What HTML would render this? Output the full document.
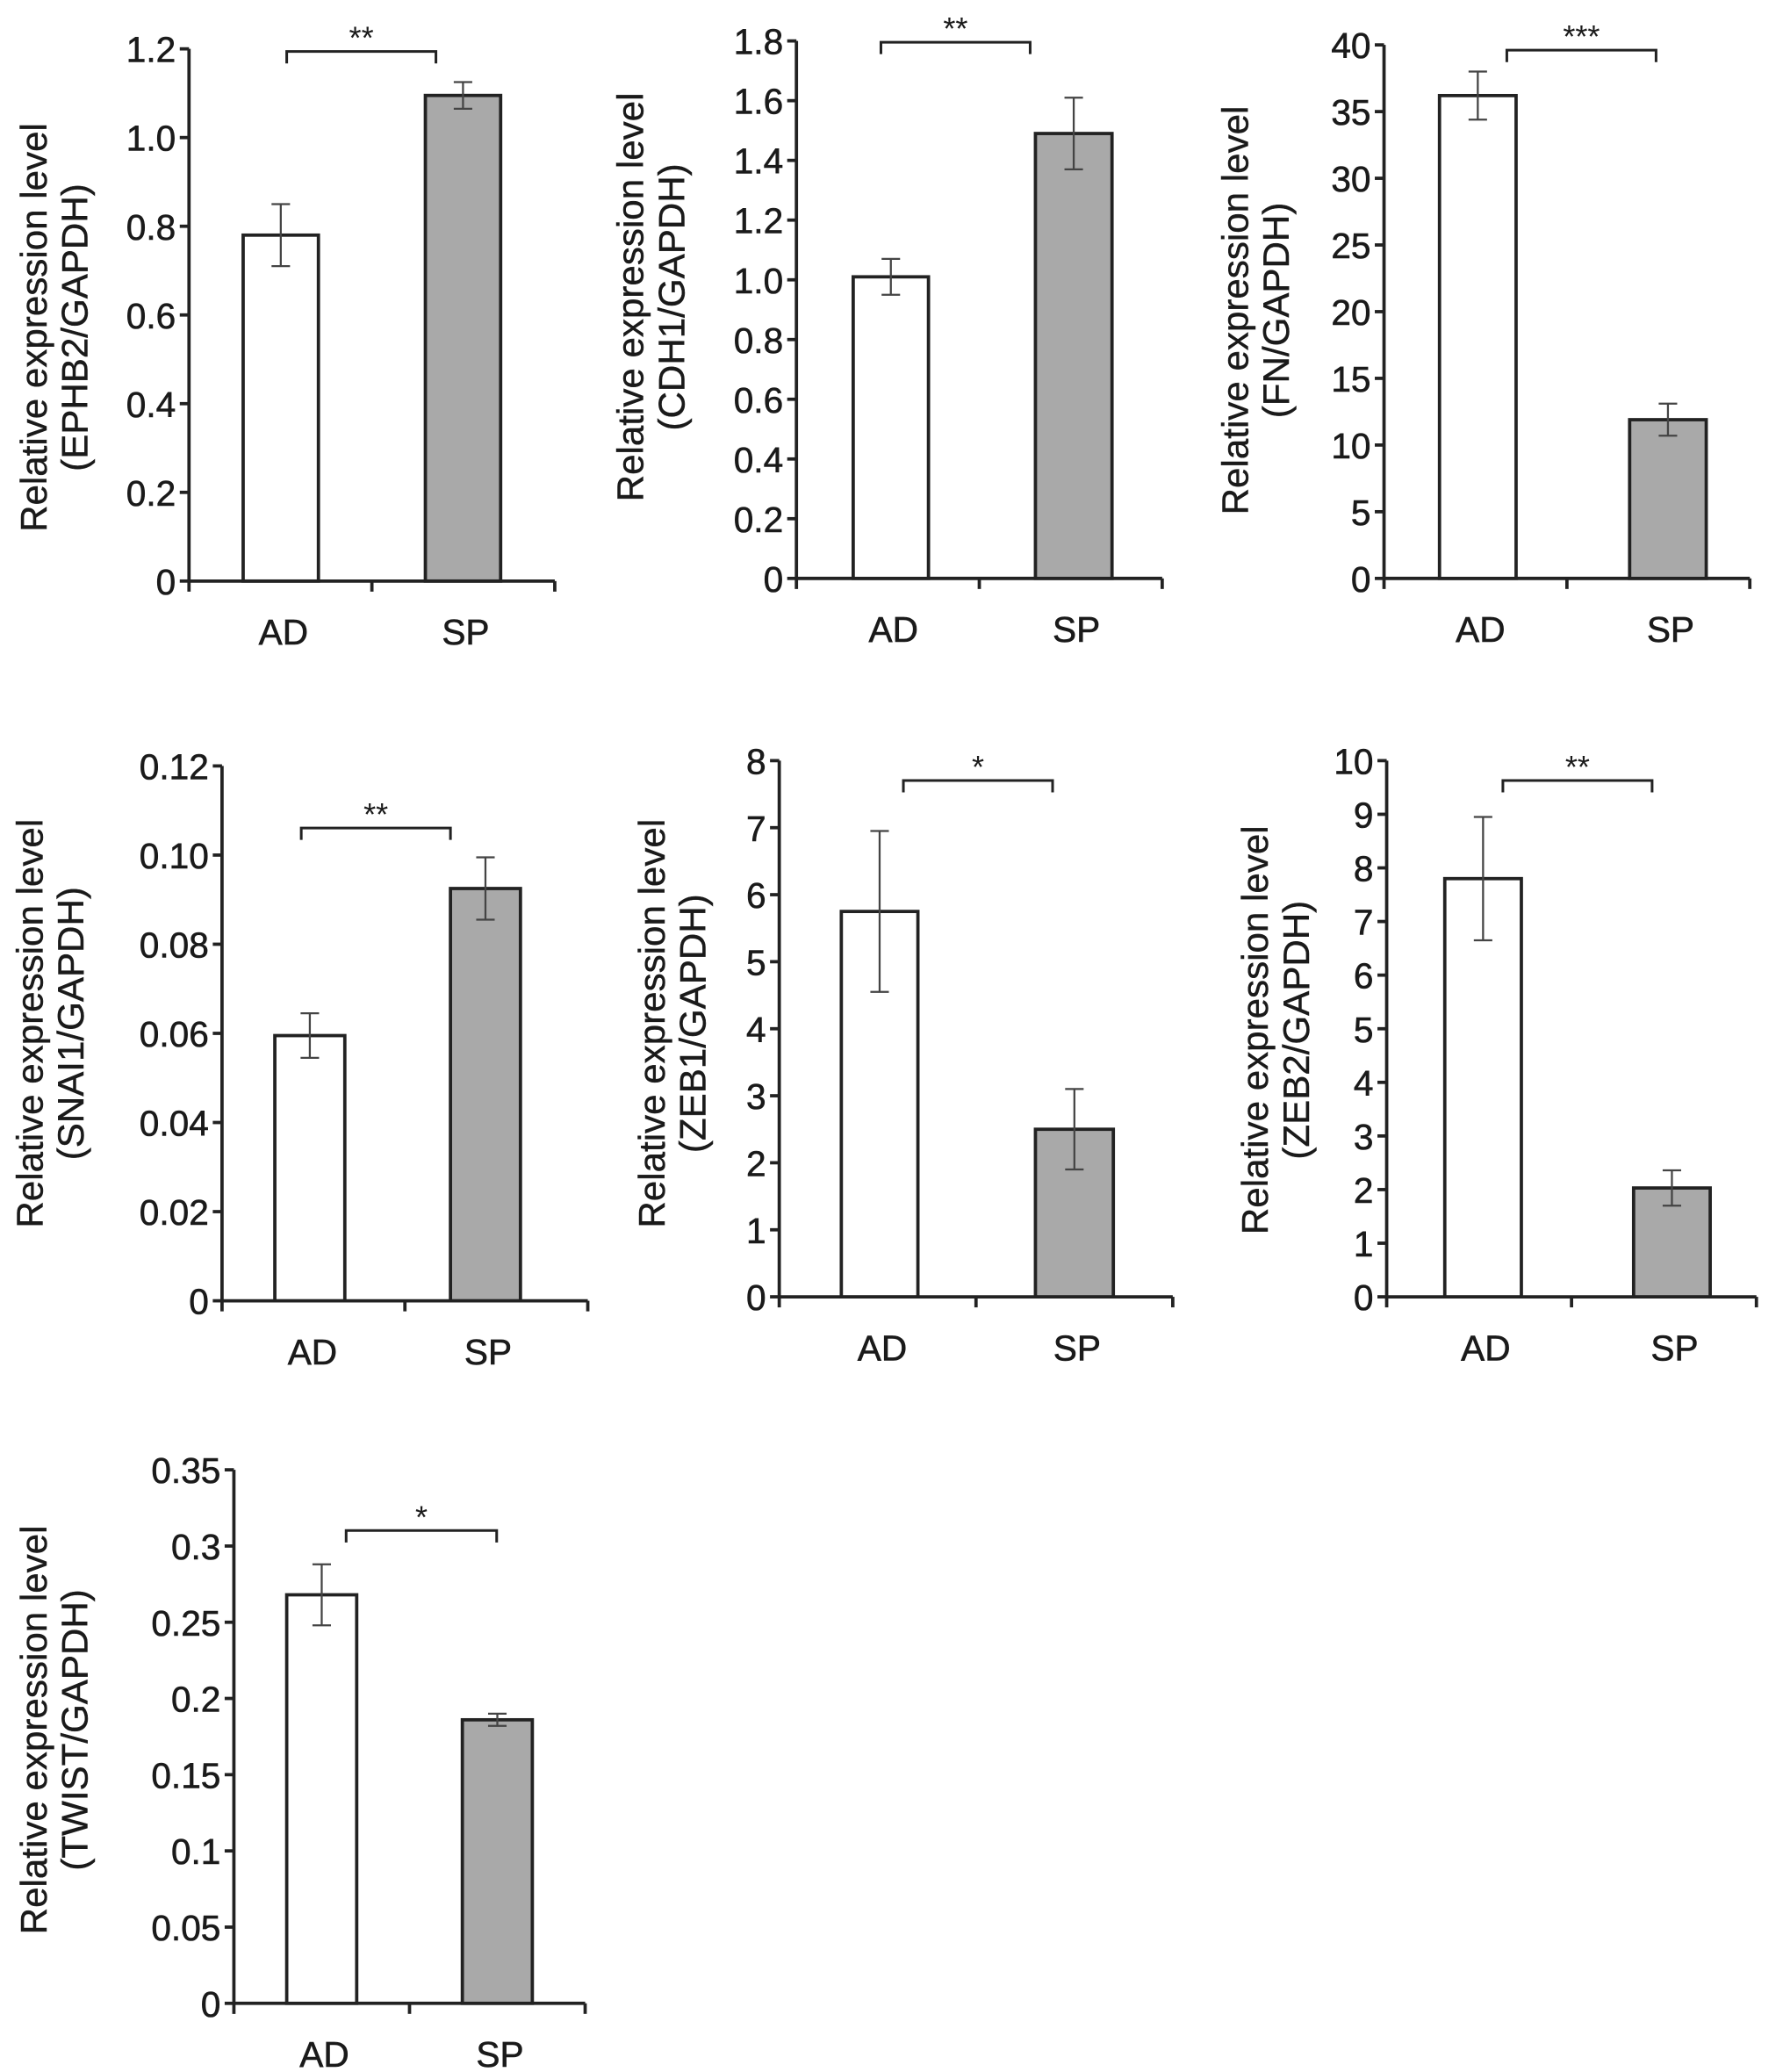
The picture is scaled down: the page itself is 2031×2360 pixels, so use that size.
<!DOCTYPE html>
<html><head><meta charset="utf-8"><style>
html,body{margin:0;padding:0;background:#fff;}
svg{display:block;}
text{font-family:"Liberation Sans",Arial,sans-serif;fill:#1a1a1a;}
</style></head><body>
<svg id="chart" width="2031" height="2360" viewBox="0 0 1350 1569" xmlns="http://www.w3.org/2000/svg"></svg>
<script>
// Data arrays
const categories = ["AD", "SP"];
const genes = ["EPHB2", "CDH1", "FN", "SNAI1", "ZEB1", "ZEB2", "TWIST"];
const meanAD = [0.78, 1.01, 36.2, 0.0595, 5.75, 7.8, 0.268];
const meanSP = [1.095, 1.49, 11.9, 0.0925, 2.5, 2.03, 0.186];
const errAD = [0.07, 0.06, 1.8, 0.005, 1.2, 1.15, 0.02];
const errSP = [0.03, 0.12, 1.2, 0.007, 0.6, 0.33, 0.004];
const yMax = [1.2, 1.8, 40, 0.12, 8, 10, 0.35];
const tickLabels = [
  ["0","0.2","0.4","0.6","0.8","1.0","1.2"],
  ["0","0.2","0.4","0.6","0.8","1.0","1.2","1.4","1.6","1.8"],
  ["0","5","10","15","20","25","30","35","40"],
  ["0","0.02","0.04","0.06","0.08","0.10","0.12"],
  ["0","1","2","3","4","5","6","7","8"],
  ["0","1","2","3","4","5","6","7","8","9","10"],
  ["0","0.05","0.1","0.15","0.2","0.25","0.3","0.35"]
];
const sigMarks = ["**", "**", "***", "**", "*", "**", "*"];

// layout (not data)
const layout = [
  {ax:143, y0:440, yt:37, xe:420, b:[184,241,322,379], br:[217,330,39], tx:25, ty:248},
  {ax:603, y0:438, yt:31, xe:880, b:[646,703,784,842], br:[667,780,32], tx:477, ty:225},
  {ax:1048,y0:438, yt:34, xe:1325,b:[1090,1148,1234,1292], br:[1141,1254,38], tx:935, ty:235},
  {ax:168, y0:985, yt:580,xe:445, b:[208,261,341,394], br:[228,341,627], tx:22, ty:775},
  {ax:590, y0:982, yt:576,xe:888, b:[637,695,784,843], br:[684,797,591], tx:493, ty:775},
  {ax:1050,y0:982, yt:576,xe:1330,b:[1094,1152,1237,1295], br:[1138,1251,591], tx:950, ty:780},
  {ax:177, y0:1517,yt:1113,xe:443,b:[217,270,350,403], br:[262,376,1159], tx:25, ty:1310}
];
const NS="http://www.w3.org/2000/svg";
const svg=document.getElementById('chart');
function mk(tag,attrs,parent){const e=document.createElementNS(NS,tag);for(const k in attrs)e.setAttribute(k,attrs[k]);(parent||svg).appendChild(e);return e;}

genes.forEach((g,i)=>{
  const L=layout[i];
  const grp=mk('g',{});
  
  
  const y=v=>L.y0-(v/yMax[i])*(L.y0-L.yt);
  const ya=mk('line',{x1:L.ax,y1:L.yt,x2:L.ax,y2:L.y0+8,stroke:'#222','stroke-width':2.5},grp);
  
  
  const xa=mk('line',{x1:L.ax,y1:L.y0,x2:L.xe,y2:L.y0,stroke:'#222','stroke-width':2.5},grp);
  
  
  const mid=(L.ax+L.xe)/2;
  [mid,L.xe].forEach(x=>mk('line',{x1:x,y1:L.y0,x2:x,y2:L.y0+8,stroke:'#222','stroke-width':2.5},grp));
  tickLabels[i].forEach(t=>{
    const v=parseFloat(t), yy=y(v);
    mk('line',{x1:L.ax-7,y1:yy,x2:L.ax,y2:yy,stroke:'#222','stroke-width':2.5},grp);
    const tx=mk('text',{x:L.ax-10,y:yy+10,'text-anchor':'end','font-size':27,'stroke':'#1a1a1a','stroke-width':0.4},grp);
    tx.textContent=t;
    
    
  });
  const tt=mk('text',{transform:`translate(${L.tx+10},${L.ty}) rotate(-90)`,'text-anchor':'middle','font-size':28,'stroke':'#1a1a1a','stroke-width':0.3},grp);
  
  
  const t1=mk('tspan',{x:0,y:0},tt);t1.textContent='Relative expression level';
  const t2=mk('tspan',{x:0,y:31},tt);t2.textContent='('+g+'/GAPDH)';
  const means=[meanAD[i],meanSP[i]], errs=[errAD[i],errSP[i]];
  means.forEach((m,k)=>{
    const x1=L.b[k*2], x2=L.b[k*2+1], top=y(m);
    const r=mk('rect',{x:x1,y:top,width:x2-x1,height:L.y0-top,fill:k?'#a9a9a9':'#fff',stroke:'#222','stroke-width':2.5},grp);
    
    
    const cx=(x1+x2)/2, hi=y(m+errs[k]), lo=y(m-errs[k]);
    const eb=mk('path',{d:`M${cx},${hi}V${lo}M${cx-7},${hi}H${cx+7}M${cx-7},${lo}H${cx+7}`,stroke:'#444','stroke-width':1.5,fill:'none'},grp);
    
    
    const lb=mk('text',{x:cx+2,y:L.y0+48,'text-anchor':'middle','font-size':27,'stroke':'#1a1a1a','stroke-width':0.4},grp);
    lb.textContent=categories[k];
    
    
  });
  const [bx1,bx2,by]=L.br;
  const bk=mk('path',{d:`M${bx1},${by+9}V${by}H${bx2}V${by+9}`,stroke:'#222','stroke-width':2,fill:'none'},grp);
  
  
  const st=mk('text',{x:(bx1+bx2)/2,y:by-2,'text-anchor':'middle','font-size':24},grp);
  st.textContent=sigMarks[i];
  
  
});
</script>
</body></html>
